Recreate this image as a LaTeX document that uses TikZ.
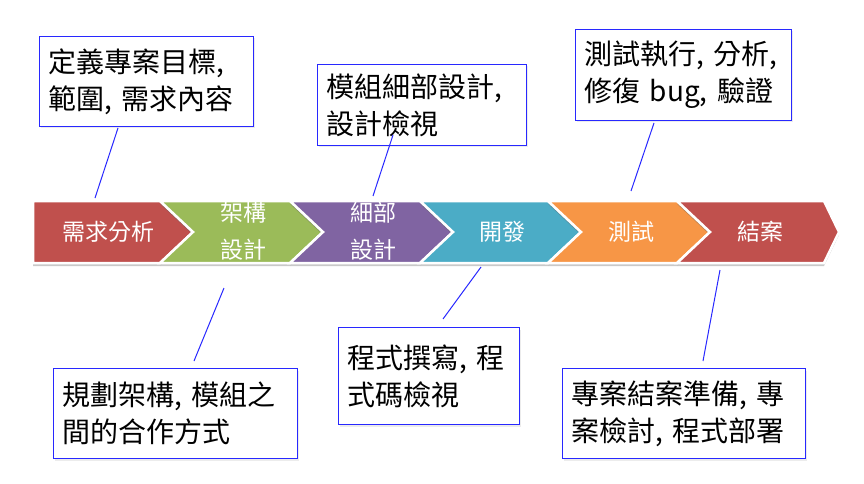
\documentclass[tikz,border=0pt]{standalone}
\usepackage{fontspec}
\setmainfont{Noto Sans CJK TC}
\usetikzlibrary{shadows}
\definecolor{cred}{HTML}{C0504D}
\definecolor{cgreen}{HTML}{9BBB59}
\definecolor{cpurple}{HTML}{8064A2}
\definecolor{cblue}{HTML}{4BACC6}
\definecolor{corange}{HTML}{F79646}
\definecolor{lineblue}{RGB}{40,40,255}
\begin{document}
\begin{tikzpicture}[x=1pt,y=-1pt,
  chev/.style={draw=white,line width=2.5pt,line join=miter,
    drop shadow={shadow xshift=0pt,shadow yshift=-3pt,opacity=0.35,fill=black!60}},
  chevtext/.style={text=white,font=\fontsize{23}{37}\selectfont,align=center,inner sep=0pt},
  note/.style={draw=lineblue,line width=1pt,fill=white,anchor=north west,align=left,
    inner sep=9pt,font=\fontsize{28}{37}\selectfont,
    drop shadow={shadow xshift=1pt,shadow yshift=-2pt,opacity=0.15}},
  conn/.style={draw=lineblue,line width=1pt}]
\useasboundingbox (0,0) rectangle (864,484);
\fill[white] (0,0) rectangle (864,484);
% chevrons
\draw[chev,fill=cred] (33,201) -- (160,201) -- (193,232) -- (160,263) -- (33,263) -- cycle;
\draw[chev,fill=cgreen] (160,201) -- (290,201) -- (323,232) -- (290,263) -- (160,263) -- (193,232) -- cycle;
\draw[chev,fill=cpurple] (290,201) -- (420,201) -- (453,232) -- (420,263) -- (290,263) -- (323,232) -- cycle;
\draw[chev,fill=cblue] (420,201) -- (548,201) -- (581,232) -- (548,263) -- (420,263) -- (453,232) -- cycle;
\draw[chev,fill=corange] (548,201) -- (677,201) -- (710,232) -- (677,263) -- (548,263) -- (581,232) -- cycle;
\draw[chev,fill=cred] (677,201) -- (824,201) -- (839,232) -- (824,263) -- (677,263) -- (710,232) -- cycle;
\node[chevtext] (c1) at (108,232) {需求分析};
\node[chevtext] (c2) at (243,231) {架構\\設計};
\node[chevtext] (c3) at (373,231) {細部\\設計};
\node[chevtext] (c4) at (502,232) {開發};
\node[chevtext] (c5) at (631,232) {測試};
\node[chevtext] (c6) at (760,232) {結案};
% notes
\node[note,minimum width=214pt,minimum height=90pt,text width=196pt] (n1) at (39,36) {定義專案目標,\\範圍, 需求內容};
\node[note,minimum width=209pt,minimum height=69pt,text width=191pt] (n2) at (317,64) {模組細部設計,\\設計檢視};
\node[note,minimum width=216pt,minimum height=91pt,text width=198pt] (n3) at (575,29) {測試執行, 分析,\\修復 bug, 驗證};
\node[note,minimum width=244pt,minimum height=90pt,text width=226pt] (n4) at (53,368) {規劃架構, 模組之\\間的合作方式};
\node[note,minimum width=181pt,minimum height=97pt,text width=163pt] (n5) at (338,327) {程式撰寫, 程\\式碼檢視};
\node[note,minimum width=243pt,minimum height=90pt,text width=225pt] (n6) at (562,368) {專案結案準備, 專\\案檢討, 程式部署};
% connector ends
\coordinate (a1) at (118,128); \coordinate (b1) at (95,198);
\coordinate (a2) at (393,135); \coordinate (b2) at (373,196);
\coordinate (a3) at (654,123); \coordinate (b3) at (631,191);
\coordinate (a4) at (224,288); \coordinate (b4) at (194,361);
\coordinate (a5) at (481,267); \coordinate (b5) at (443,319);
\coordinate (a6) at (720,270); \coordinate (b6) at (703,361);
\draw[conn] (a1) -- (b1);
\draw[conn] (a2) -- (b2);
\draw[conn] (a3) -- (b3);
\draw[conn] (a4) -- (b4);
\draw[conn] (a5) -- (b5);
\draw[conn] (a6) -- (b6);
\end{tikzpicture}
\end{document}
